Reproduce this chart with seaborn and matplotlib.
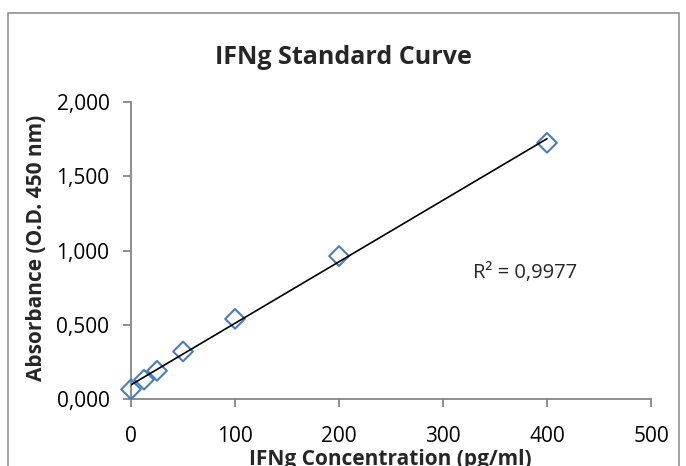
import matplotlib
matplotlib.use('Agg')
import matplotlib.pyplot as plt
import matplotlib.patches as patches
from matplotlib.ticker import FuncFormatter, MultipleLocator
import seaborn as sns
import pandas as pd

# standard curve readings
conc = [0, 12.5, 25, 50, 100, 200, 400]
od = [0.065, 0.13, 0.19, 0.32, 0.54, 0.963, 1.726]
r2_text = 'R² = 0,9977'
title = 'IFNg Standard Curve'
xlab = 'IFNg Concentration (pg/ml)'
ylab = 'Absorbance (O.D. 450 nm)'

df = pd.DataFrame({'conc': conc, 'od': od})

sns.set_style('white')
plt.rcParams['font.family'] = ['Open Sans', 'DejaVu Sans']

fig = plt.figure(figsize=(6.86, 4.66), dpi=100)
ax = fig.add_axes([0.191, 0.1438, 0.758, 0.637])

sns.regplot(data=df, x='conc', y='od', ax=ax, ci=None, marker='D', color='#4A7EBB',
            scatter_kws={'facecolors': 'none', 'alpha': 1, 's': 100, 'linewidths': 1.5, 'zorder': 3},
            line_kws={'color': 'black', 'linewidth': 1.2, 'zorder': 4})

ax.set_xlim(0, 500)
ax.set_ylim(0, 2)
ax.xaxis.set_major_locator(MultipleLocator(100))
ax.yaxis.set_major_locator(MultipleLocator(0.5))
ax.yaxis.set_major_formatter(FuncFormatter(lambda v, p: f'{v:.3f}'.replace('.', ',')))
ax.set_xlabel('')
ax.set_ylabel('')

for s in ['top', 'right']:
    ax.spines[s].set_visible(False)
for s in ['left', 'bottom']:
    ax.spines[s].set_color('#868686')
    ax.spines[s].set_linewidth(1.3)
ax.tick_params(axis='both', direction='out', length=5.5, width=1.3, color='#868686',
               labelsize=15, labelcolor='black', left=True, bottom=True)
ax.tick_params(axis='x', pad=14)
ax.tick_params(axis='y', pad=10)
for c in ax.collections:
    c.set_clip_on(False)

ax.text(379, 0.85, r2_text, ha='center', va='center', fontsize=14.5)

fig.text(0.5, 1 - 58 / 466, title, ha='center', va='center', fontsize=18, fontweight='bold')
fig.text(37 / 686, 1 - 248 / 466, ylab, ha='center', va='center', rotation=90,
         fontsize=15, fontweight='bold')
fig.text(390 / 686, 1 - 449 / 466, xlab, ha='center', va='top', fontsize=15, fontweight='bold')

# chart border
fig.patches.append(patches.Rectangle((8 / 686, -0.1), 671 / 686, 1.1 - 13 / 466,
                                     transform=fig.transFigure, fill=False,
                                     edgecolor='#898989', linewidth=1.1))

fig.savefig('out.png', dpi=100)
